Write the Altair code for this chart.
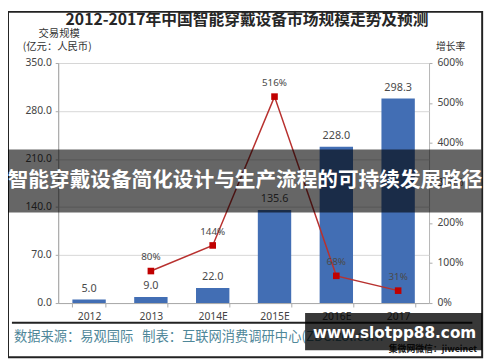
import altair as alt
import pandas as pd

# ---------------- data ----------------
years = ["2012", "2013", "2014E", "2015E", "2016E", "2017"]
market_size = [5.0, 9.0, 22.0, 135.6, 228.0, 298.3]
growth_years = ["2013", "2014E", "2015E", "2016E", "2017"]
growth_rate = [80, 144, 516, 68, 31]
growth_labels = ["80%", "144%", "516%", "68%", "31%"]
left_ticks = [0, 70, 140, 210, 280, 350]
right_ticks = [0, 100, 200, 300, 400, 500, 600]

title_text = "2012-2017年中国智能穿戴设备市场规模走势及预测"
left_title_1 = "交易规模"
left_title_2 = "(亿元：人民币)"
right_title = "增长率"
banner_text = "智能穿戴设备简化设计与生产流程的可持续发展路径"
footer_text = "数据来源：易观国际\u00a0\u00a0\u00a0制表：互联网消费调研中心(ZDC.zol.com"
footer_small = "集微网微信：jiweinet"
watermark_text = "www.slotpp88.com"

bars_df = pd.DataFrame({"year": years, "value": market_size,
                        "label": [f"{v:.1f}" for v in market_size]})
line_df = pd.DataFrame({"year": growth_years, "rate": growth_rate, "label": growth_labels})
one = pd.DataFrame({"k": [0]})

CJK = "Noto Sans CJK SC"
W, H = 377, 244

x_enc = alt.X("year:N", sort=years,
              scale=alt.Scale(paddingInner=0.46, paddingOuter=0.23),
              axis=alt.Axis(title=None, labelAngle=0, tickBand="extent",
                            labelFont="Noto Sans", labelFontSize=10.5, labelColor="#444",
                            tickColor="#aaa", domainColor="#aaa", tickSize=4,
                            labelPadding=5))

bars = alt.Chart(bars_df).mark_bar(color="#426EB4").encode(
    x=x_enc,
    y=alt.Y("value:Q", scale=alt.Scale(domain=[0, 350]),
            axis=alt.Axis(title=None, values=left_ticks, format=".1f",
                          grid=True, gridColor="#d6d6d6", tickSize=3,
                          tickColor="#aaa", domainColor="#aaa", labelPadding=4,
                          labelFont="Noto Sans", labelFontSize=10.5, labelColor="#444")),
)

bar_text = alt.Chart(bars_df).mark_text(
    baseline="bottom", dy=-6, font="Noto Sans", fontSize=11, color="#4a4a4a"
).encode(
    x=alt.X("year:N", sort=years),
    y=alt.Y("value:Q", scale=alt.Scale(domain=[0, 350]), axis=None),
    text="label:N",
)

line = alt.Chart(line_df).mark_line(color="#B8312F", strokeWidth=1.5).encode(
    x=alt.X("year:N", sort=years),
    y=alt.Y("rate:Q", scale=alt.Scale(domain=[0, 600]),
            axis=alt.Axis(title=None, orient="right", values=right_ticks,
                          labelExpr="datum.value + '%'", grid=False, tickSize=3,
                          tickColor="#aaa", domainColor="#aaa", domain=False,
                          labelPadding=5, labelFont="Noto Sans",
                          labelFontSize=10.5, labelColor="#444")),
)

points = alt.Chart(line_df).mark_point(shape="square", filled=True, size=45,
                                       color="#C00000", opacity=1).encode(
    x=alt.X("year:N", sort=years),
    y=alt.Y("rate:Q", scale=alt.Scale(domain=[0, 600]), axis=None),
)

line_text = alt.Chart(line_df).mark_text(
    baseline="middle", dy=-14, font="Noto Sans", fontSize=10, color="#4a4a4a"
).encode(
    x=alt.X("year:N", sort=years),
    y=alt.Y("rate:Q", scale=alt.Scale(domain=[0, 600]), axis=None),
    text="label:N",
)

def txt(text, x, y, size, color="#222", weight="normal", align="center",
        font=CJK, baseline="middle"):
    return alt.Chart(one).mark_text(
        text=text, fontSize=size, color=color, fontWeight=weight,
        align=align, baseline=baseline, font=font
    ).encode(x=alt.value(x), y=alt.value(y))

frame = alt.Chart(one).mark_rect(fillOpacity=0, stroke="#222", strokeWidth=2).encode(
    x=alt.value(-51), x2=alt.value(431), y=alt.value(-52), y2=alt.value(299))

title = txt(title_text, 192, -44, 16, color="#262626", weight="bold")
lt1 = txt(left_title_1, 1, -29, 10.5, color="#333")
lt2 = txt(left_title_2, -1, -16, 10.5, color="#333")
rt = txt(right_title, 399, -16, 10, color="#333")

banner_box = alt.Chart(one).mark_rect(color="black", opacity=0.6).encode(
    x=alt.value(-51), x2=alt.value(430), y=alt.value(88), y2=alt.value(152))
banner = txt(banner_text, 190, 120, 21, color="white", weight="bold")

footer_rule = alt.Chart(one).mark_rule(color="#222", strokeWidth=2).encode(
    x=alt.value(-47), x2=alt.value(421), y=alt.value(264))
footer = txt(footer_text, -45, 279, 13.5, color="#4f8799", align="left")
footer2 = txt(footer_small, 336, 291, 9, color="#222", weight="bold", align="left")

wm_box = alt.Chart(one).mark_rect(color="black", opacity=0.78).encode(
    x=alt.value(251), x2=alt.value(431), y=alt.value(254), y2=alt.value(292))
wm = txt(watermark_text, 342, 275, 15.5, color="white", weight="bold",
         font="DejaVu Sans")

chart = alt.layer(
    frame, bars, bar_text, line, points, line_text,
    title, lt1, lt2, rt, footer_rule, footer, footer2,
    banner_box, banner, wm_box, wm
).resolve_scale(y="independent").properties(
    width=W, height=H,
    padding={"left": 51, "top": 53, "right": 64, "bottom": 57},
    autosize=alt.AutoSizeParams(type="none"),
    background="white",
).configure_view(stroke="#b5b5b5", strokeWidth=1)

chart.save("out.html", embed_options={"renderer": "svg", "actions": False})
